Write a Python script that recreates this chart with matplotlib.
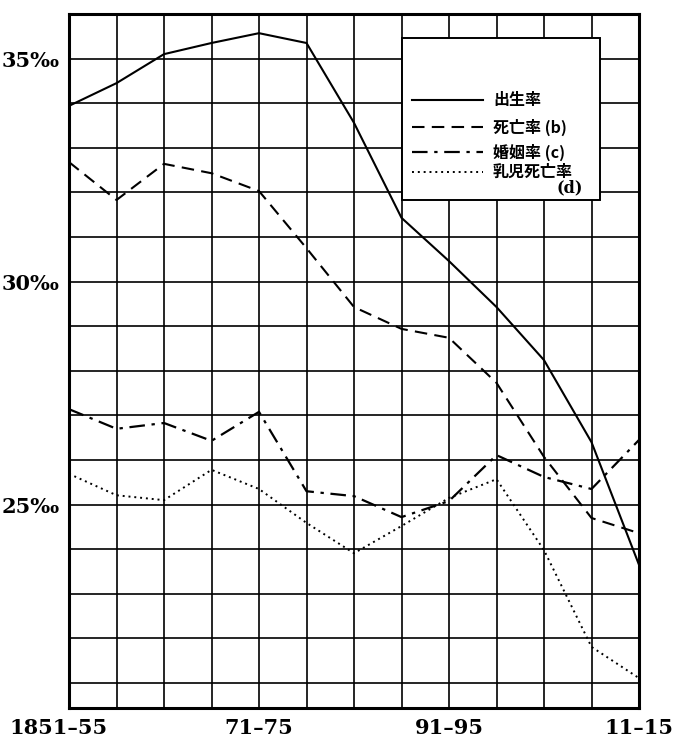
import matplotlib
matplotlib.use('Agg')
import matplotlib.pyplot as plt
from matplotlib.lines import Line2D
from matplotlib.patches import Rectangle
from matplotlib.transforms import ScaledTranslation

# periods (5-year averages), 1851-55 ... 1911-15
periods = ['1851–55', '56–60', '61–65', '66–70', '71–75', '76–80', '81–85',
           '86–90', '91–95', '96–00', '01–05', '06–10', '11–15']
shown_ticks = ['1851–55', '71–75', '91–95', '11–15']

# rates in per mille
birth = [33.94, 34.45, 35.10, 35.35, 35.57, 35.35, 33.56, 31.43, 30.46, 29.43, 28.24, 26.40, 23.65]
death = [32.68, 31.83, 32.64, 32.43, 32.03, 30.75, 29.43, 28.94, 28.74, 27.73, 26.07, 24.70, 24.36]
marriage = [27.14, 26.70, 26.83, 26.43, 27.08, 25.30, 25.19, 24.72, 25.08, 26.11, 25.62, 25.35, 26.45]
infant = [25.69, 25.21, 25.10, 25.78, 25.35, 24.59, 23.91, 24.52, 25.15, 25.57, 23.98, 21.81, 21.11]

labels = ['出生率', '死亡率 (b)', '婚姻率 (c)', '乳児死亡率']
y_labels = {25: '25‰', 30: '30‰', 35: '35‰'}

plt.rcParams['font.family'] = ['DejaVu Serif']

fig = plt.figure(figsize=(6.79, 7.40), dpi=100)
ax = fig.add_axes([69 / 679, 1 - 708 / 740, 570 / 679, 694 / 740])

x = list(range(len(periods)))
styles = ['-', (0, (6, 3.5)), (0, (7, 3, 1.5, 3)), (0, (1, 2))]
widths = [1.5, 1.5, 1.6, 1.4]
series = [birth, death, marriage, infant]
for s, ls, lw in zip(series, styles, widths):
    ax.plot(x, s, color='black', linestyle=ls, linewidth=lw, zorder=3)

ax.set_xlim(0, 12)
ax.set_ylim(20.44, 36)

# grid every period / every 1 per mille
ax.set_xticks(x)
ax.set_xticklabels([p if p in shown_ticks else '' for p in periods])
yt = list(range(21, 37))
ax.set_yticks(yt)
ax.set_yticklabels([y_labels.get(v, '') for v in yt])
ax.grid(True, color='black', linewidth=1.2)
ax.tick_params(length=0, labelsize=15, pad=7)
for lab in ax.get_xticklabels() + ax.get_yticklabels():
    lab.set_fontweight('bold')
# first period label sits a bit to the left
first = ax.get_xticklabels()[0]
first.set_transform(first.get_transform() + ScaledTranslation(-10 / 100, 0, fig.dpi_scale_trans))

for sp in ax.spines.values():
    sp.set_linewidth(2.2)

# legend box drawn by hand (empty space on top as in the original)
ax.add_patch(Rectangle((0.584, 0.732), 0.348, 0.233, transform=ax.transAxes,
                       facecolor='white', edgecolor='black', linewidth=1.4, zorder=5))
entry_y = [0.876, 0.837, 0.801, 0.772]
cjk = ['Noto Sans CJK JP', 'DejaVu Sans']
for ls, lw, lab, yy in zip(styles, widths, labels, entry_y):
    ax.add_line(Line2D([0.602, 0.726], [yy, yy], transform=ax.transAxes,
                       color='black', linestyle=ls, linewidth=lw, zorder=6))
    ax.text(0.744, yy, lab, transform=ax.transAxes, ha='left', va='center',
            fontsize=11.5, fontweight='bold', family=cjk, zorder=6)
ax.text(0.878, 0.749, '(d)', transform=ax.transAxes, ha='center', va='center',
        fontsize=11.5, fontweight='bold', zorder=6)

fig.savefig('out.png', dpi=100, facecolor='white')
